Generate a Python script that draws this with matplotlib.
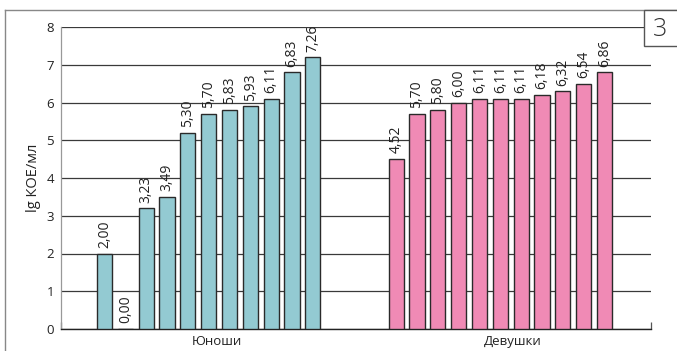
import matplotlib.pyplot as plt
from matplotlib.patches import Rectangle

plt.rcParams['font.family'] = ['Open Sans', 'DejaVu Sans']

# values as drawn (bar heights) and the printed labels
boys = [2.0, 0.0, 3.2, 3.5, 5.2, 5.7, 5.8, 5.9, 6.1, 6.8, 7.2]
boys_lbl = ['2,00', '0,00', '3,23', '3,49', '5,30', '5,70', '5,83', '5,93', '6,11', '6,83', '7,26']
girls = [4.5, 5.7, 5.8, 6.0, 6.1, 6.1, 6.1, 6.2, 6.3, 6.5, 6.8]
girls_lbl = ['4,52', '5,70', '5,80', '6,00', '6,11', '6,11', '6,11', '6,18', '6,32', '6,54', '6,86']
groups = ['Юноши', 'Девушки']
panel = '3'

teal = '#93cad2'
pink = '#f08ab5'

fig = plt.figure(figsize=(6.77, 3.51), dpi=100)
ax = fig.add_axes([61/677, 1-329/351, 590/677, 302/351])

xb = list(range(len(boys)))
xg = [i + 14 for i in range(len(girls))]

ax.bar(xb, boys, width=0.73, color=teal, edgecolor='#2a2a2a', linewidth=1, zorder=3)
ax.bar(xg, girls, width=0.73, color=pink, edgecolor='#2a2a2a', linewidth=1, zorder=3)

for x, v, t in zip(xb + xg, boys + girls, boys_lbl + girls_lbl):
    ax.text(x, v + 0.15, t, rotation=90, ha='center', va='bottom', fontsize=10, color='#222222')

ax.set_xlim(-2.09, 26.23)
ax.set_ylim(0, 8)
ax.set_yticks(range(0, 9))
ax.grid(axis='y', color='#3a3a3a', linewidth=0.9, zorder=0)
ax.tick_params(axis='y', length=0, labelsize=9.5, pad=5, labelcolor='#222222')

ax.set_xticks([5.4, 19.6])
ax.set_xticklabels(groups, fontsize=9.5, color='#222222')
ax.tick_params(axis='x', which='major', length=0, pad=4)
ax.set_xticks([-2.09, 26.23], minor=True)
ax.tick_params(axis='x', which='minor', direction='in', length=5, width=0.9, color='#555555')

for s in ['right', 'top']:
    ax.spines[s].set_visible(False)
ax.spines['left'].set_color('#999999')
ax.spines['left'].set_linewidth(0.9)
ax.spines['bottom'].set_color('#222222')
ax.spines['bottom'].set_linewidth(1)

ax.set_ylabel('lg КОЕ/мл', fontsize=10.5, labelpad=4, color='#222222')

# outer frame
fig.add_artist(plt.Line2D([5/677, 1], [1-10/351, 1-10/351], color='#888888', linewidth=1))
fig.add_artist(plt.Line2D([5/677, 5/677], [0, 1-10/351], color='#888888', linewidth=1))
# panel number box
fig.add_artist(Rectangle((644/677, 1-46/351), 40/677, 36/351, facecolor='white',
                         edgecolor='#555555', linewidth=1, zorder=5))
fig.text(660/677, 1-29/351, panel, fontsize=18, fontweight='light', ha='center', va='center',
         color='#333333', zorder=6)

fig.savefig('out.png', dpi=100)
